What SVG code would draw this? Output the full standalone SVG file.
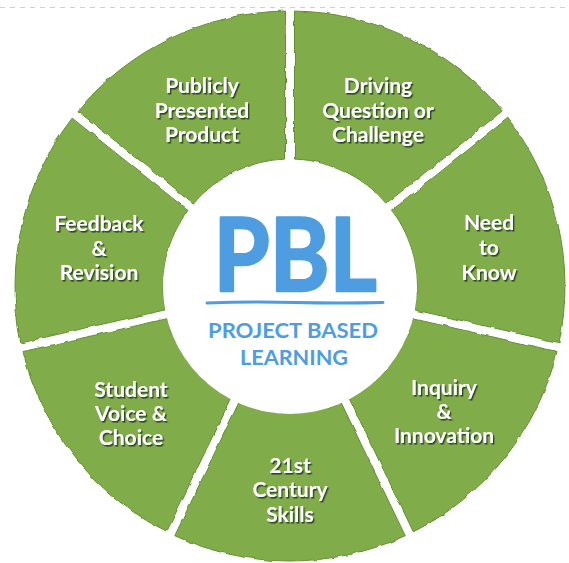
<svg xmlns="http://www.w3.org/2000/svg" width="569" height="563" viewBox="0 0 569 563">
  <defs>
    <filter id="rough" x="-5%" y="-5%" width="110%" height="110%">
      <feTurbulence type="fractalNoise" baseFrequency="0.08" numOctaves="2" seed="3" result="n"/>
      <feDisplacementMap in="SourceGraphic" in2="n" scale="3.5" xChannelSelector="R" yChannelSelector="G"/>
    </filter>
    <filter id="shadow" x="-10%" y="-20%" width="120%" height="140%">
      <feDropShadow dx="1.4" dy="1.6" stdDeviation="0.5" flood-color="#24341a" flood-opacity="0.85"/>
    </filter>
  </defs>
  <style>
    .seg { fill: #80ad49; stroke: #628f33; stroke-width: 1; filter: url(#rough); }
    .lbl { font-family: Lato, "Open Sans", "Liberation Sans", sans-serif; font-weight: 700; font-size: 21px; fill: #ffffff; text-anchor: middle; filter: url(#shadow); }
    .blue { fill: #4e9de0; font-family: Lato, "Open Sans", "Liberation Sans", sans-serif; text-anchor: middle; }
  </style>
  <rect x="0" y="0" width="569" height="563" fill="#ffffff"/>
  <line x1="0" y1="7.5" x2="569" y2="7.5" stroke="#c6d1d8" stroke-width="1" stroke-dasharray="5 5"/>

  <g id="connectors"></g>

  <g id="driving-question">
    <path class="seg" d="M 294.51 11.04 A 275 275 0 0 1 502.19 111.07 L 386.43 203.35 A 127 127 0 0 0 294.50 159.08 Z"/>
    <text class="lbl" x="378" y="93">Driving</text>
    <text class="lbl" x="378" y="118">Question or</text>
    <text class="lbl" x="378" y="142">Challenge</text>
  </g>

  <g id="need-to-know">
    <path class="seg" d="M 507.83 118.14 A 275 275 0 0 1 559.06 342.79 L 414.74 309.86 A 127 127 0 0 0 392.03 210.38 Z"/>
    <text class="lbl" x="489" y="230">Need</text>
    <text class="lbl" x="489" y="255">to</text>
    <text class="lbl" x="489" y="280">Know</text>
  </g>

  <g id="inquiry-innovation">
    <path class="seg" d="M 557.05 351.59 A 275 275 0 0 1 413.34 531.80 L 349.12 398.41 A 127 127 0 0 0 412.73 318.64 Z"/>
    <text class="lbl" x="444" y="395">Inquiry</text>
    <text class="lbl" x="444" y="419">&amp;</text>
    <text class="lbl" x="444" y="443">Innovation</text>
  </g>

  <g id="century-skills">
    <path class="seg" d="M 405.23 535.70 A 275 275 0 0 1 174.77 535.70 L 239.00 402.31 A 127 127 0 0 0 341.00 402.31 Z"/>
    <text class="lbl" x="290" y="473">21st</text>
    <text class="lbl" x="290" y="497">Century</text>
    <text class="lbl" x="290" y="522">Skills</text>
  </g>

  <g id="student-voice">
    <path class="seg" d="M 166.66 531.80 A 275 275 0 0 1 22.95 351.59 L 167.27 318.64 A 127 127 0 0 0 230.88 398.41 Z"/>
    <text class="lbl" x="131" y="397">Student</text>
    <text class="lbl" x="131" y="421">Voice &amp;</text>
    <text class="lbl" x="131" y="445">Choice</text>
  </g>

  <g id="feedback-revision">
    <path class="seg" d="M 20.94 342.79 A 275 275 0 0 1 72.17 118.14 L 187.97 210.38 A 127 127 0 0 0 165.26 309.86 Z"/>
    <text class="lbl" x="99" y="231">Feedback</text>
    <text class="lbl" x="99" y="256">&amp;</text>
    <text class="lbl" x="99" y="280">Revision</text>
  </g>

  <g id="public-product">
    <path class="seg" d="M 77.81 111.07 A 275 275 0 0 1 285.49 11.04 L 285.50 159.08 A 127 127 0 0 0 193.57 203.35 Z"/>
    <text class="lbl" x="202" y="93">Publicly</text>
    <text class="lbl" x="202" y="118">Presented</text>
    <text class="lbl" x="202" y="142">Product</text>
  </g>

  <g id="pbl-center">
    <circle cx="290" cy="287" r="127" fill="#ffffff"/>
    <text class="blue" x="295" y="291" font-size="101" font-weight="700" stroke="#4e9de0" stroke-width="2.5" stroke-linejoin="round" textLength="163" lengthAdjust="spacingAndGlyphs">PBL</text>
    <path d="M 207 303 Q 250 301.5 295 302.5 T 383 302.5" fill="none" stroke="#4e9de0" stroke-width="3" stroke-linecap="round"/>
    <text class="blue" x="293" y="338" font-size="21" font-weight="700" textLength="170" lengthAdjust="spacingAndGlyphs">PROJECT BASED</text>
    <text class="blue" x="294" y="365" font-size="21" font-weight="700" textLength="108" lengthAdjust="spacingAndGlyphs">LEARNING</text>
  </g>
</svg>
